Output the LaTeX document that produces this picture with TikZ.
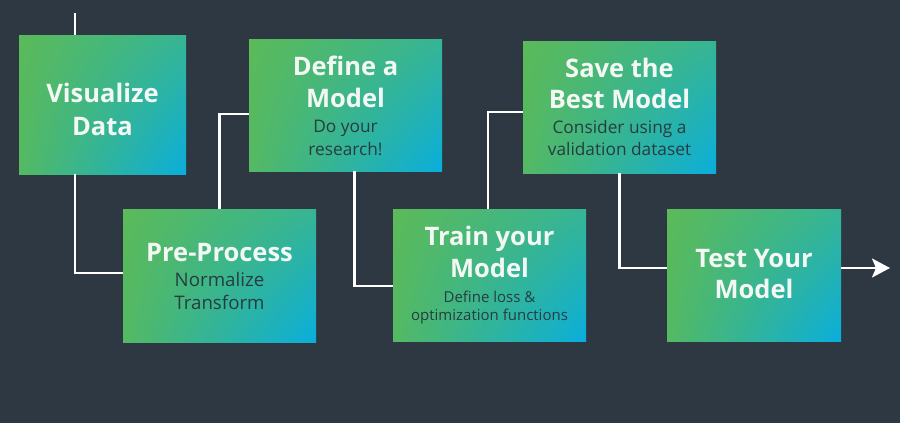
\documentclass[tikz,border=0pt]{standalone}
\usepackage{fontspec}
\setmainfont{Open Sans}
\usetikzlibrary{arrows.meta,shadings}
\definecolor{bg}{HTML}{2E3842}
\definecolor{gUL}{HTML}{5BBA59}
\definecolor{gUR}{HTML}{36B594}
\definecolor{gLL}{HTML}{54B962}
\definecolor{gLR}{HTML}{09AEDD}
\definecolor{ttlc}{HTML}{F4F8F4}
\definecolor{subc}{HTML}{263D40}
\tikzset{
  stagebox/.style={rectangle, inner sep=0pt, shade,
    upper left=gUL, upper right=gUR, lower left=gLL, lower right=gLR},
  ttl/.style={anchor=base, inner sep=0pt, text=ttlc, font=\bfseries\fontsize{25.5}{32}\selectfont},
  sub/.style={anchor=base, inner sep=0pt, text=subc, font=\fontsize{17.3}{22}\selectfont},
  conn/.style={draw=white, line width=2.4pt},
}
\begin{document}
\begin{tikzpicture}[x=1pt, y=-1pt]
\fill[bg] (0,0) rectangle (900,423);
\useasboundingbox (0,0) rectangle (900,423);
% boxes
\node[stagebox, minimum width=167pt, minimum height=139pt] (viz) at (102.5,104.5) {};
\node[stagebox, minimum width=193pt, minimum height=132pt] (def) at (345.5,105) {};
\node[stagebox, minimum width=193pt, minimum height=132pt] (save) at (619.5,107) {};
\node[stagebox, minimum width=193pt, minimum height=133pt] (pre) at (219.5,275.5) {};
\node[stagebox, minimum width=193pt, minimum height=132pt] (train) at (489.5,275) {};
\node[stagebox, minimum width=174pt, minimum height=132pt] (test) at (754,275) {};
% connectors
\coordinate (top) at (75,13);
\coordinate (out) at (890,268);
\draw[conn] (top) -- (top |- viz.north);
\draw[conn] (viz.south -| top) |- ([yshift=2.5pt]pre.west);
\draw[conn] (pre.north) |- ([yshift=-9pt]def.west);
\draw[conn] ([xshift=9pt]def.south) |- ([yshift=-11pt]train.west);
\draw[conn] ([xshift=-1.5pt]train.north) |- ([yshift=-5pt]save.west);
\draw[conn] (save.south) |- ([yshift=7pt]test.west);
\draw[conn, -{Stealth[length=18pt, width=19pt, inset=4pt]}] ([yshift=7pt]test.east) -- (out);
% texts
\node[ttl] (viz1) at (102.5,102) {Visualize};
\node[ttl] (viz2) at (102.5,135) {Data};
\node[ttl] (def1) at (345.5,75) {Define a};
\node[ttl] (def2) at (345.5,107) {Model};
\node[sub] (def3) at (345.5,132) {Do your};
\node[sub] (def4) at (345.5,155) {research!};
\node[ttl] (save1) at (619.5,77) {Save the};
\node[ttl] (save2) at (619.5,108) {Best Model};
\node[sub] (save3) at (619.5,133) {Consider using a};
\node[sub] (save4) at (619.5,155) {validation dataset};
\node[ttl] (pre1) at (219.5,261) {Pre-Process};
\node[sub, font=\fontsize{18.7}{23}\selectfont] (pre2) at (219.5,286) {Normalize};
\node[sub, font=\fontsize{18.7}{23}\selectfont] (pre3) at (219.5,309) {Transform};
\node[ttl] (train1) at (489.5,245) {Train your};
\node[ttl] (train2) at (489.5,277) {Model};
\node[sub, font=\fontsize{15}{18}\selectfont] (train3) at (489.5,302) {Define loss \&};
\node[sub, font=\fontsize{15}{18}\selectfont] (train4) at (489.5,320) {optimization functions};
\node[ttl] (test1) at (754,267) {Test Your};
\node[ttl] (test2) at (754,298) {Model};
\end{tikzpicture}
\end{document}
